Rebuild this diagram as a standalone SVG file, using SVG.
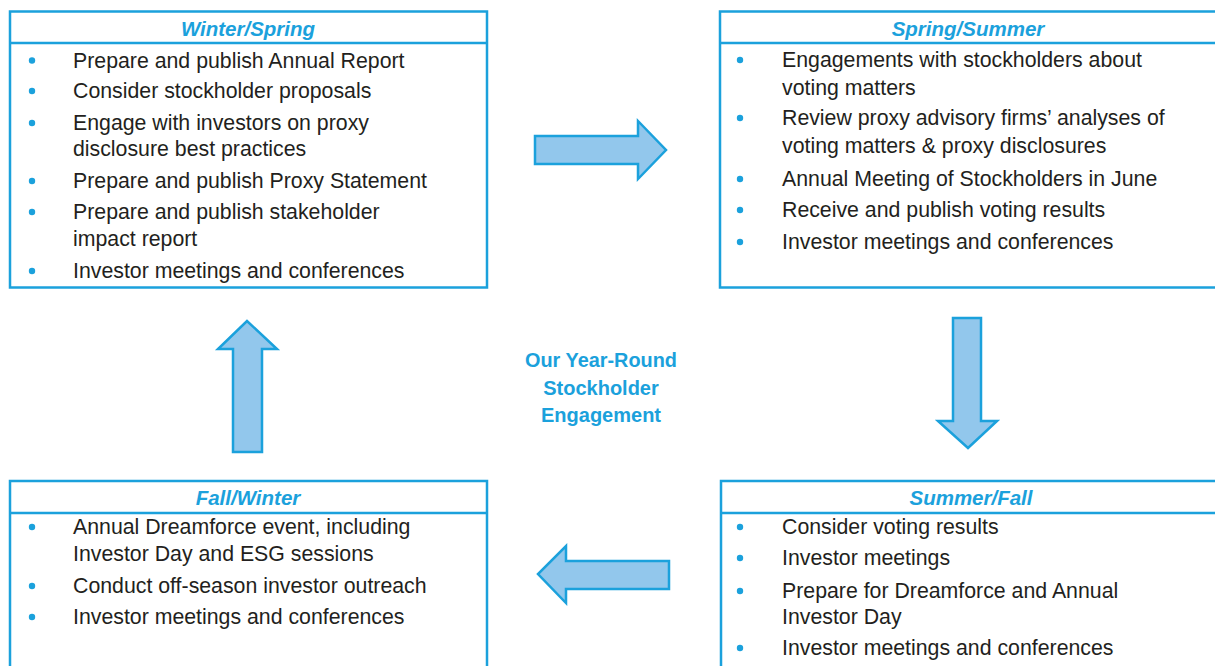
<svg xmlns="http://www.w3.org/2000/svg" width="1215" height="666" viewBox="0 0 1215 666">
<style>
.box{fill:#fff;stroke:#1ba1dc;stroke-width:2.5}
.hl{stroke:#1ba1dc;stroke-width:2.5}
.ttl{font-family:"Liberation Sans",Arial,sans-serif;font-size:20.5px;font-weight:bold;font-style:italic;fill:#1ba1dc;text-anchor:middle}
.t{font-family:"Liberation Sans",Arial,sans-serif;font-size:21.3px;fill:#231f20}
.b{fill:#1ba1dc}
.arr{fill:#92c7ec;stroke:#1ba1dc;stroke-width:2.5;stroke-linejoin:miter}
.ctr{font-family:"Liberation Sans",Arial,sans-serif;font-size:20px;font-weight:bold;fill:#1ba1dc;text-anchor:middle}
</style>
<rect width="1215" height="666" fill="#fff"/>
<g id="winter-spring">
<rect class="box" x="10" y="11.5" width="477" height="276"/>
<line class="hl" x1="10" y1="43" x2="487" y2="43"/>
<text class="ttl" x="248" y="35.5">Winter/Spring</text>
<circle class="b" cx="32" cy="60.5" r="3.2"/><text class="t" x="73" y="67.5">Prepare and publish Annual Report</text>
<circle class="b" cx="32" cy="91" r="3.2"/><text class="t" x="73" y="98">Consider stockholder proposals</text>
<circle class="b" cx="32" cy="123" r="3.2"/><text class="t" x="73" y="130">Engage with investors on proxy</text>
<text class="t" x="73" y="156">disclosure best practices</text>
<circle class="b" cx="32" cy="181" r="3.2"/><text class="t" x="73" y="188">Prepare and publish Proxy Statement</text>
<circle class="b" cx="32" cy="212" r="3.2"/><text class="t" x="73" y="219">Prepare and publish stakeholder</text>
<text class="t" x="73" y="246">impact report</text>
<circle class="b" cx="32" cy="271" r="3.2"/><text class="t" x="73" y="278">Investor meetings and conferences</text>
</g>
<g id="spring-summer">
<rect class="box" x="720" y="11.5" width="520" height="276"/>
<line class="hl" x1="720" y1="43" x2="1215" y2="43"/>
<text class="ttl" x="968" y="35.5">Spring/Summer</text>
<circle class="b" cx="740" cy="60" r="3.2"/><text class="t" x="782" y="67">Engagements with stockholders about</text>
<text class="t" x="782" y="95">voting matters</text>
<circle class="b" cx="740" cy="118" r="3.2"/><text class="t" x="782" y="125">Review proxy advisory firms’ analyses of</text>
<text class="t" x="782" y="153">voting matters &amp; proxy disclosures</text>
<circle class="b" cx="740" cy="179" r="3.2"/><text class="t" x="782" y="186">Annual Meeting of Stockholders in June</text>
<circle class="b" cx="740" cy="210" r="3.2"/><text class="t" x="782" y="217">Receive and publish voting results</text>
<circle class="b" cx="740" cy="242" r="3.2"/><text class="t" x="782" y="249">Investor meetings and conferences</text>
</g>
<g id="summer-fall">
<rect class="box" x="721" y="481" width="520" height="220"/>
<line class="hl" x1="721" y1="513" x2="1215" y2="513"/>
<text class="ttl" x="971" y="505">Summer/Fall</text>
<circle class="b" cx="740" cy="527" r="3.2"/><text class="t" x="782" y="534">Consider voting results</text>
<circle class="b" cx="740" cy="558" r="3.2"/><text class="t" x="782" y="565">Investor meetings</text>
<circle class="b" cx="740" cy="591" r="3.2"/><text class="t" x="782" y="598">Prepare for Dreamforce and Annual</text>
<text class="t" x="782" y="624">Investor Day</text>
<circle class="b" cx="740" cy="648" r="3.2"/><text class="t" x="782" y="655">Investor meetings and conferences</text>
</g>
<g id="fall-winter">
<rect class="box" x="10" y="481" width="477" height="220"/>
<line class="hl" x1="10" y1="513" x2="487" y2="513"/>
<text class="ttl" x="248" y="505">Fall/Winter</text>
<circle class="b" cx="32" cy="527" r="3.2"/><text class="t" x="73" y="534">Annual Dreamforce event, including</text>
<text class="t" x="73" y="561">Investor Day and ESG sessions</text>
<circle class="b" cx="32" cy="586" r="3.2"/><text class="t" x="73" y="593">Conduct off-season investor outreach</text>
<circle class="b" cx="32" cy="617" r="3.2"/><text class="t" x="73" y="624">Investor meetings and conferences</text>
</g>
<g id="center">
<text class="ctr" x="601" y="366.5" textLength="152" lengthAdjust="spacingAndGlyphs">Our Year-Round</text>
<text class="ctr" x="601" y="395">Stockholder</text>
<text class="ctr" x="601" y="422">Engagement</text>
</g>
<g id="connectors">
<polygon class="arr" points="535,136 638,136 638,121 666,150 638,179 638,164 535,164"/>
<polygon class="arr" points="953,318 981,318 981,421 997,421 968,448 938,421 953,421"/>
<polygon class="arr" points="669,561 669,589 566,589 566,603 538,574 566,546 566,561"/>
<polygon class="arr" points="233,452 262,452 262,349 277,349 247,321 218,349 233,349"/>
</g>
</svg>
